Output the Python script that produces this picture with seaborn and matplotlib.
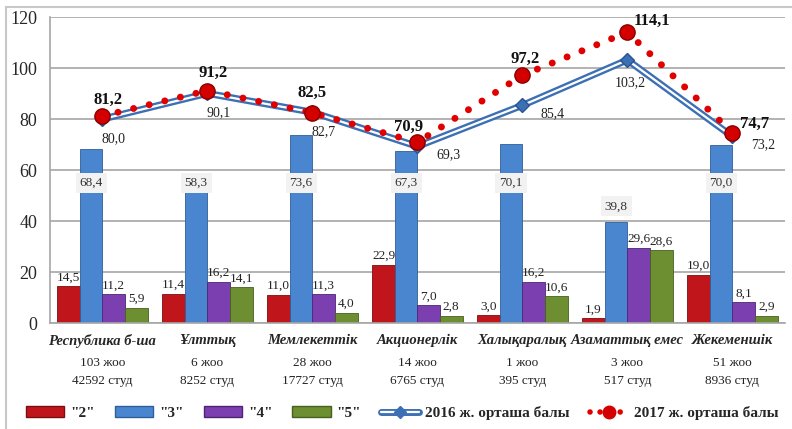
"""
ЖОО түрлері бойынша бағалар үлесі және орташа балл (2016 / 2017).
"""

import numpy as np
import pandas as pd
import matplotlib
matplotlib.use("Agg")
import matplotlib.pyplot as plt
from matplotlib.lines import Line2D
from matplotlib.patches import Patch, Rectangle
from matplotlib.legend_handler import HandlerTuple
from matplotlib import transforms
import seaborn as sns

# ── data ───────────────────────────────────────────────────────────────────
categories = ["Республика б-ша", "Ұлттық", "Мемлекеттік", "Акционерлік",
              "Халықаралық", "Азаматтық емес", "Жекеменшік"]
n_univ = ["103 жоо", "6 жоо", "28 жоо", "14 жоо", "1 жоо", "3 жоо", "51 жоо"]
n_stud = ["42592 студ", "8252 студ", "17727 студ", "6765 студ",
          "395 студ", "517 студ", "8936 студ"]

grade_2 = [14.5, 11.4, 11.0, 22.9, 3.0, 1.9, 19.0]
grade_3 = [68.4, 58.3, 73.6, 67.3, 70.1, 39.8, 70.0]
grade_4 = [11.2, 16.2, 11.3, 7.0, 16.2, 29.6, 8.1]
grade_5 = [5.9, 14.1, 4.0, 2.8, 10.6, 28.6, 2.9]

avg_2016 = [80.0, 90.1, 82.7, 69.3, 85.4, 103.2, 73.2]
avg_2017 = [81.2, 91.2, 82.5, 70.9, 97.2, 114.1, 74.7]

grade_names = ['"2"', '"3"', '"4"', '"5"']
label_2016 = "2016 ж. орташа балы"
label_2017 = "2017 ж. орташа балы"

# ── style ──────────────────────────────────────────────────────────────────
sns.set_style("white")
plt.rcParams["font.family"] = ["Liberation Serif", "DejaVu Serif"]

colors = ["#C0161B", "#4A86D0", "#7B3FB0", "#6E8E32"]
edges = ["#7A0E10", "#2F5E98", "#4E2475", "#46601E"]
grid_c = "#A6A6A6"

def fmt(v):
    return f"{v:.1f}".replace(".", ",")

df = pd.DataFrame({
    "cat": categories * 4,
    "grade": np.repeat(grade_names, len(categories)),
    "val": grade_2 + grade_3 + grade_4 + grade_5,
})

fig = plt.figure(figsize=(7.92, 4.29), dpi=100)
ax = fig.add_axes([0.063, 0.247, 0.928, 0.713])

sns.barplot(data=df, x="cat", y="val", hue="grade", order=categories,
            hue_order=grade_names, palette=colors, width=0.86, gap=0,
            saturation=1, legend=False, ax=ax, zorder=2)

for cont, ec in zip(ax.containers, edges):
    for b in cont:
        b.set_edgecolor(ec)
        b.set_linewidth(0.6)

# value labels
for i, cont in enumerate(ax.containers):
    if i == 1:
        continue
    ax.bar_label(cont, labels=[fmt(v) for v in cont.datavalues],
                 padding=2, fontsize=9.5, color="#222222", zorder=5)

for b, v in zip(ax.containers[1], grade_3):
    ax.text(b.get_x() + b.get_width() / 2, min(v + 6, 55), fmt(v),
            ha="center", va="center", fontsize=9.5, color="#333333", zorder=6,
            bbox=dict(boxstyle="square,pad=0.3", fc="#F2F2F2", ec="none"))

# ── lines ──────────────────────────────────────────────────────────────────
xs = np.arange(len(categories))
ax.plot(xs, avg_2016, color="#3C6FB4", lw=5, zorder=7,
        solid_joinstyle="miter")
ax.plot(xs, avg_2016, color="white", lw=1.6, zorder=8)
ax.plot(xs, avg_2016, ls="none", marker="D", ms=7, color="#3C6FB4",
        mec="#2A5490", zorder=9)

ax.plot(xs, avg_2017, color="#E00000", lw=5, ls=(0, (0.01, 2.3)),
        dash_capstyle="round", zorder=10)
ax.plot(xs, avg_2017, ls="none", marker="o", ms=11, color="#D40000",
        mec="#8A0000", zorder=11)

off_2016 = [(8, -14), (8, -14), (8, -14), (22, -6), (22, -6), (2, -16), (22, -6)]
off_2017 = [(4, 12), (4, 13), (0, 14), (-6, 11), (2, 12), (18, 8), (16, 6)]
for x, v, o in zip(xs, avg_2016, off_2016):
    ax.annotate(fmt(v), (x, v), xytext=o, textcoords="offset points",
                ha="center", va="center", fontsize=10, color="#222222",
                zorder=12)
for x, v, o in zip(xs, avg_2017, off_2017):
    ax.annotate(fmt(v), (x, v), xytext=o, textcoords="offset points",
                ha="center", va="center", fontsize=12, fontweight="bold",
                color="#111111", zorder=12)

# ── axes ───────────────────────────────────────────────────────────────────
ax.set_ylim(0, 120)
ax.set_xlim(-0.5, len(categories) - 0.5)
ax.set_yticks(range(0, 121, 20))
ax.tick_params(axis="y", labelsize=13, length=7, color=grid_c, pad=2)
ax.set_xticks(np.arange(-0.5, len(categories), 1.0))
ax.set_xticklabels([])
ax.tick_params(axis="x", length=6, color=grid_c, direction="out")
ax.set_xlabel("")
ax.set_ylabel("")
ax.yaxis.grid(True, color=grid_c, lw=1.2, zorder=0)
ax.set_axisbelow(True)
for s in ["top", "right"]:
    ax.spines[s].set_visible(False)
for s in ["left", "bottom"]:
    ax.spines[s].set_color(grid_c)
    ax.spines[s].set_linewidth(1.2)

trans = transforms.blended_transform_factory(ax.transData, ax.transAxes)
for x, c, u, s in zip(xs, categories, n_univ, n_stud):
    ax.text(x, -0.058, c, transform=trans, ha="center", va="center",
            fontsize=10.5, fontweight="bold", fontstyle="italic")
    ax.text(x, -0.13, u, transform=trans, ha="center", va="center",
            fontsize=9.5, color="#222222")
    ax.text(x, -0.19, s, transform=trans, ha="center", va="center",
            fontsize=9.5, color="#222222")

# ── legend ─────────────────────────────────────────────────────────────────
handles = [Patch(fc=c, ec=e) for c, e in zip(colors, edges)]
h16 = (Line2D([], [], color="#3C6FB4", lw=5),
       Line2D([], [], color="white", lw=1.6),
       Line2D([], [], ls="none", marker="D", ms=6, color="#3C6FB4"))
h17 = (Line2D([], [], color="#E00000", lw=4, ls=(0, (0.01, 1.8)),
              dash_capstyle="round"),
       Line2D([], [], ls="none", marker="o", ms=9, color="#D40000"))
fig.legend(handles + [h16, h17], grade_names + [label_2016, label_2017],
           handler_map={tuple: HandlerTuple(ndivide=1)},
           loc="center", bbox_to_anchor=(0.508, 0.037), ncol=6, frameon=False,
           prop={"weight": "bold", "size": 11}, handlelength=2.5,
           handletextpad=0.4, columnspacing=1.3)

fig.patches.append(Rectangle((0.008, -0.1), 1.2, 1.083, transform=fig.transFigure,
                             fill=False, ec="#C8C8C8", lw=1.5))

fig.savefig("out.png", dpi=100)
